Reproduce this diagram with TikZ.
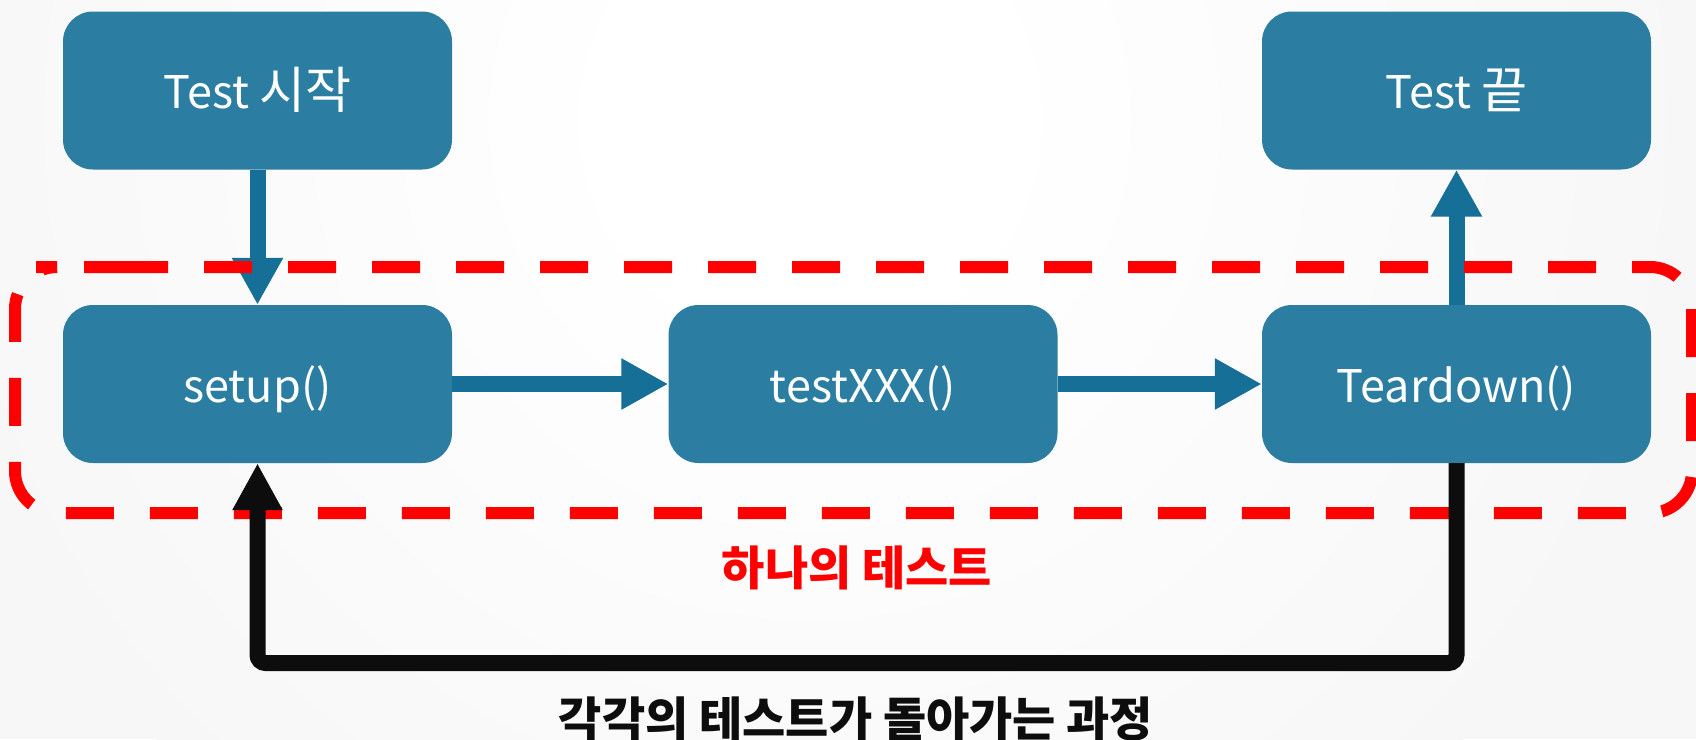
\documentclass[tikz,border=0pt]{standalone}
\usepackage{fontspec}
\setmainfont{Noto Sans CJK KR}
\usetikzlibrary{arrows.meta}
\definecolor{bg}{RGB}{247,247,247}
\definecolor{boxc}{RGB}{43,126,161}
\definecolor{arrc}{RGB}{21,111,150}
\definecolor{blk}{RGB}{13,13,13}
\definecolor{redc}{RGB}{255,0,0}
\pgfdeclareradialshading{glow}{\pgfpoint{0bp}{0bp}}{color(0bp)=(white); color(6bp)=(white!96!bg); color(25bp)=(bg); color(50bp)=(bg)}
\newcommand{\hg}[1]{{\fontsize{50}{54}\selectfont #1}}
\begin{document}
\begin{tikzpicture}[x=1pt,y=-1pt,
  box/.style={fill=boxc, rounded corners=30pt, minimum width=389pt, minimum height=158pt,
    inner sep=0pt, text=white, font=\fontsize{45}{54}\selectfont, text height=36pt, text depth=0pt},
  flow/.style={draw=arrc, line width=16pt, -{Triangle[width=48pt,length=47pt]}},
  loop/.style={draw=blk, line width=16pt, rounded corners=8pt, -{Triangle[width=47pt,length=47pt]}},
  group/.style={draw=redc, line width=12pt, dash pattern=on 48pt off 36pt, rounded corners=42pt},
  lbl/.style={inner sep=0pt, anchor=base, font=\bfseries\fontsize{47}{56}\selectfont}]
\useasboundingbox (0,0) rectangle (1696,739);
\clip (0,0) rectangle (1696,739);
\fill[bg] (0,0) rectangle (1696,739);
\shade[shading=glow] (810,120) circle (900);

\node[box] (start) at (257.5,90.5) {Test \hg{시작}};
\node[box] (end) at (1456.5,90.5) {Test \hg{끝}};
\node[box] (setup) at (257.5,384) {setup()};
\node[box] (test) at (863,384) {testXXX()};
\node[box] (tear) at (1456.5,384) {Teardown()};

\draw[flow] (start.south) -- (setup.north);
\draw[flow] (setup.east) -- (test.west);
\draw[flow] (test.east) -- (tear.west);
\draw[flow] (tear.north) -- (end.south);

\draw[group] (78,267) -- (1692,267) -- (1692,513) -- (15,513) -- (15,267) -- cycle;

\coordinate (low) at (0,663);
\draw[loop] (tear.south) -- (tear.south |- low) -| (setup.south);

\node[lbl, text=redc] (one) at (857,585) {하나의 테스트};
\node[lbl, text=blk] (each) at (856,736) {각각의 테스트가 돌아가는 과정};
\end{tikzpicture}
\end{document}
